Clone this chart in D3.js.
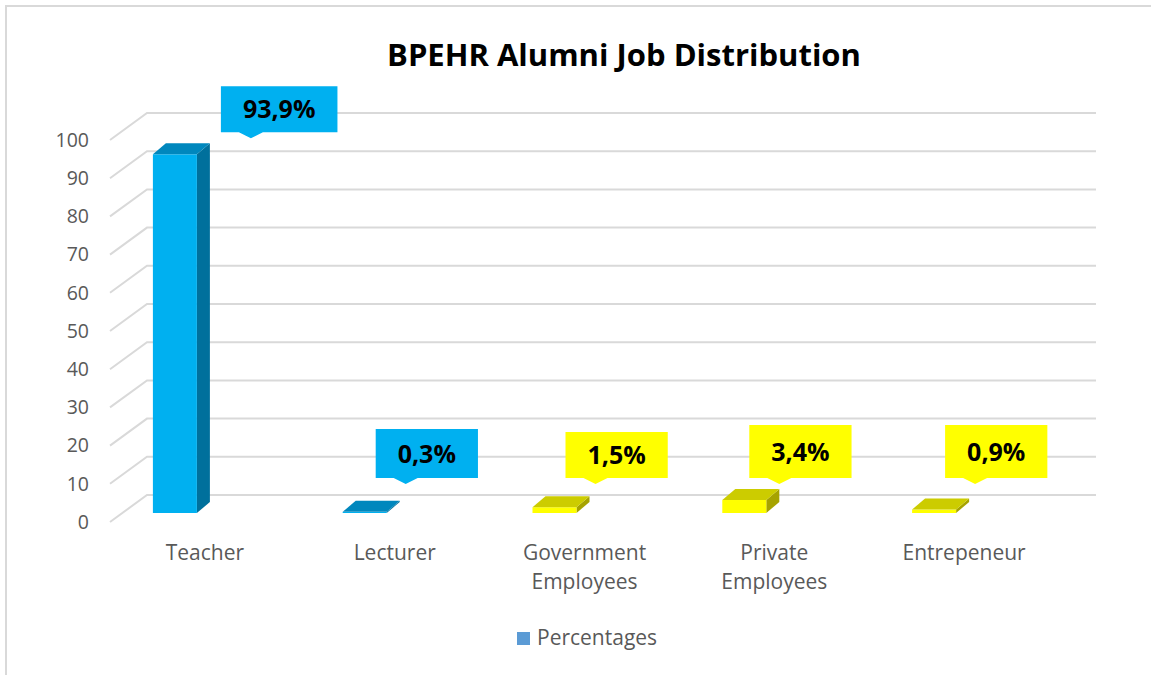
<!DOCTYPE html>
<html>
<head>
    <title>BPEHR Alumni Job Distribution</title>
    <script src="https://d3js.org/d3.v7.min.js"></script>
    <style>
        body {
            margin: 0;
            background: #fff;
            font-family: "Open Sans", "Noto Sans", sans-serif;
        }
        .grid { stroke: #d9d9d9; stroke-width: 2; fill: none; }
        .tick-label { fill: #595959; font-size: 19.5px; }
        .cat-label { fill: #595959; font-size: 21px; }
        .title { fill: #000; font-size: 31px; font-weight: bold; }
        .callout-text { fill: #000; font-size: 25px; font-weight: bold; }
    </style>
</head>
<body>
    <div id="chart"></div>
    <script>
        // chart data
        const categories = ["Teacher", "Lecturer", "Government Employees", "Private Employees", "Entrepeneur"];
        const values = [93.9, 0.3, 1.5, 3.4, 0.9];
        const valueLabels = ["93,9%", "0,3%", "1,5%", "3,4%", "0,9%"];
        const yTicks = [0, 10, 20, 30, 40, 50, 60, 70, 80, 90, 100];
        const seriesName = "Percentages";

        // per-bar style groups (blue for first two, yellow for the rest)
        const palette = {
            blue: { front: "#00b0f0", top: "#0087bd", side: "#00709c" },
            yellow: { front: "#ffff00", top: "#cccc00", side: "#a6a300" }
        };
        const barColor = i => i < 2 ? palette.blue : palette.yellow;

        const width = 1151, height = 675;
        const svg = d3.select("#chart").append("svg")
            .attr("width", width)
            .attr("height", height);

        // chart area border (top and left edges visible)
        svg.append("rect")
            .attr("x", 6).attr("y", 6)
            .attr("width", 1200).attr("height", 700)
            .attr("fill", "#fff")
            .attr("stroke", "#d9d9d9")
            .attr("stroke-width", 2);

        // title
        svg.append("text")
            .attr("class", "title")
            .attr("x", 624)
            .attr("y", 66)
            .attr("text-anchor", "middle")
            .text("BPEHR Alumni Job Distribution");

        // back wall scales
        const wallLeft = 147, wallRight = 1096;
        const depthDx = -37, depthDy = 27;   // floor depth (back -> front)
        const y = d3.scaleLinear().domain([0, 100]).range([495, 113]);

        // front category band
        const x = d3.scaleBand()
            .domain(categories)
            .range([wallLeft + depthDx, wallRight + depthDx])
            .padding(0);

        // gridlines: back wall + side diagonal
        const grid = svg.append("g");
        yTicks.forEach(t => {
            const yy = y(t);
            grid.append("path")
                .attr("class", "grid")
                .attr("d", `M${wallLeft + depthDx},${yy + depthDy} L${wallLeft},${yy} L${wallRight},${yy}`);
            svg.append("text")
                .attr("class", "tick-label")
                .attr("x", 89)
                .attr("y", yy + depthDy)
                .attr("dy", "0.35em")
                .attr("text-anchor", "end")
                .text(t);
        });

        // bars (3D columns)
        const barW = 44, barDx = 13, barDy = -11, barShift = -30, barFloor = 18;
        const bars = svg.append("g");
        values.forEach((v, i) => {
            const c = barColor(i);
            const cx = x(categories[i]) + x.bandwidth() / 2 + barShift;
            const x0 = cx - barW / 2, x1 = cx + barW / 2;
            const yb = y(0) + barFloor, yt = y(v) + barFloor;
            // side
            bars.append("polygon")
                .attr("points", [[x1, yt], [x1 + barDx, yt + barDy], [x1 + barDx, yb + barDy], [x1, yb]].join(" "))
                .attr("fill", c.side);
            // front
            bars.append("rect")
                .attr("x", x0).attr("y", yt)
                .attr("width", barW).attr("height", Math.max(1, yb - yt))
                .attr("fill", c.front);
            // top
            bars.append("polygon")
                .attr("points", [[x0, yt], [x0 + barDx, yt + barDy], [x1 + barDx, yt + barDy], [x1, yt]].join(" "))
                .attr("fill", c.top);
        });

        // category labels (wrap to two lines)
        categories.forEach(cat => {
            const t = svg.append("text")
                .attr("class", "cat-label")
                .attr("text-anchor", "middle");
            const words = cat.split(" ");
            words.forEach((w, k) => {
                t.append("tspan")
                    .attr("x", x(cat) + x.bandwidth() / 2)
                    .attr("y", 560 + k * 29)
                    .text(w);
            });
        });

        // data label callouts
        const labelNudge = [35, 0, 0, -6, 0];
        const calloutH = [46, 49, 46, 53, 53];
        const pad = 22;
        values.forEach((v, i) => {
            const c = barColor(i);
            const cx = x(categories[i]) + x.bandwidth() / 2 + barShift;
            const backTop = y(v) + barFloor + barDy;
            const tipX = cx + 41 + labelNudge[i];
            const tipY = Math.min(backTop - 5, 484);
            const g = svg.append("g");
            const txt = g.append("text")
                .attr("class", "callout-text")
                .attr("text-anchor", "middle")
                .text(valueLabels[i]);
            const tw = txt.node().getComputedTextLength();
            const w = tw + 2 * pad;
            const h = calloutH[i];
            const left = tipX - 30, bottom = tipY - 6, top = bottom - h;
            g.insert("path", "text")
                .attr("d", `M${left},${top} H${left + w} V${bottom} H${tipX + 12} L${tipX},${tipY} L${tipX - 12},${bottom} H${left} Z`)
                .attr("fill", c.front);
            txt.attr("x", left + w / 2).attr("y", top + h / 2 + 9);
        });

        // legend
        const legend = svg.append("g").attr("transform", "translate(517,632)");
        legend.append("rect")
            .attr("width", 13).attr("height", 13)
            .attr("fill", "#5b9bd5");
        legend.append("text")
            .attr("class", "cat-label")
            .attr("x", 20)
            .attr("y", 13)
            .text(seriesName);
    </script>
</body>
</html>
